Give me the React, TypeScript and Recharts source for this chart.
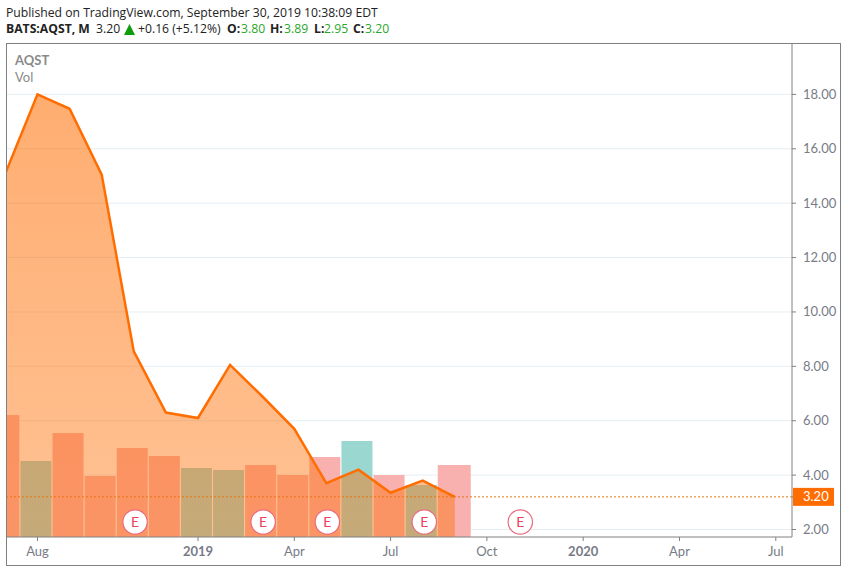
import { Area, Bar, CartesianGrid, ComposedChart, ReferenceDot, ReferenceLine, XAxis, YAxis } from 'recharts'

const monthIndex = [-1, 0, 1, 2, 3, 4, 5, 6, 7, 8, 9, 10, 11, 12, 13]
const closes = [15.1, 18.0, 17.47, 15.05, 8.55, 6.3, 6.1, 8.05, 6.9, 5.7, 3.7, 4.2, 3.35, 3.8, 3.2]
const volumes = [6.1, 3.8, 5.2, 3.05, 4.45, 4.05, 3.45, 3.35, 3.6, 3.1, 4.0, 4.8, 3.1, 2.6, 3.6]
const volumeUp = [false, true, false, false, false, false, true, true, false, false, false, true, false, true, false]

const priceTicks = [2, 4, 6, 8, 10, 12, 14, 16, 18]
const lastPrice = 3.2
const timeTicks = [0, 5, 8, 11, 14, 17, 20, 23]
const timeLabels = ['Aug', '2019', 'Apr', 'Jul', 'Oct', '2020', 'Apr', 'Jul']
const yearLabels = ['2019', '2020']
const earnings = [3.04, 7.03, 9.03, 12.05, 15.04]

const data = monthIndex.map((m, i) => ({
  m,
  close: closes[i],
  volume: volumes[i],
  up: volumeUp[i],
}))

const AXIS_FONT = 'Lato, "Open Sans", sans-serif'
const HEADER_FONT = '"Open Sans", "Noto Sans", sans-serif'
const ORANGE = '#ff6d00'
const TEXT_GRAY = '#787b86'
const GREEN = '#2aa62a'

function VolumeBar(props: any) {
  const { x, y, width, height, payload, index } = props
  const w = index === monthIndex.length - 1 ? width + 2 : width
  return <rect x={x - 2} y={y} width={w} height={height} fill={payload.up ? '#9bd7d1' : '#f8b1af'} />
}

function PriceTick({ x, y, payload }: any) {
  if (payload.value === lastPrice) {
    return (
      <g>
        <rect x={x - 5} y={y - 9} width={41} height={18} fill={ORANGE} />
        <text x={x + 5} y={y + 4.5} fill="#fff" fontSize={13} fontFamily={AXIS_FONT}>3.20</text>
      </g>
    )
  }
  return (
    <text x={x + 5} y={y + 4.5} fill={TEXT_GRAY} fontSize={13} fontFamily={AXIS_FONT}>
      {payload.value.toFixed(2)}
    </text>
  )
}

function TimeTick({ x, y, payload }: any) {
  const label = timeLabels[timeTicks.indexOf(payload.value)]
  return (
    <text
      x={x}
      y={y + 13}
      textAnchor="middle"
      fill={TEXT_GRAY}
      fontSize={13}
      fontWeight={yearLabels.includes(label) ? 'bold' : 'normal'}
      fontFamily={AXIS_FONT}
    >
      {label}
    </text>
  )
}

function EarningsDot({ cx, cy }: any) {
  return (
    <g>
      <circle cx={cx} cy={cy} r={12.2} fill="#fff" stroke="#ea6a7e" strokeWidth={1.2} />
      <text x={cx} y={cy + 5} textAnchor="middle" fill="#f0405f" fontSize={14} fontFamily={AXIS_FONT}>E</text>
    </g>
  )
}

function Header() {
  const row = { position: 'absolute', whiteSpace: 'nowrap', fontFamily: HEADER_FONT, fontSize: 12.2, lineHeight: '16px', color: '#222' } as const
  const second: [string, number, string, boolean][] = [
    ['BATS:AQST, M', 6, '#222', true],
    ['3.20', 96, '#222', false],
    ['+0.16 (+5.12%)', 138, '#222', false],
    ['O:', 227, '#222', true],
    ['3.80', 241, GREEN, false],
    ['H:', 270, '#222', true],
    ['3.89', 284, GREEN, false],
    ['L:', 314, '#222', true],
    ['2.95', 324, GREEN, false],
    ['C:', 353, '#222', true],
    ['3.20', 365, GREEN, false],
  ]
  return (
    <>
      <div style={{ ...row, left: 6, top: 5 }}>Published on TradingView.com, September 30, 2019 10:38:09 EDT</div>
      {second.map(([t, left, color, bold]) => (
        <div key={t + left} style={{ ...row, left, top: 21, color, fontWeight: bold ? 'bold' : 'normal' }}>{t}</div>
      ))}
      <svg style={{ position: 'absolute', left: 124, top: 24 }} width={11} height={11}>
        <polygon points="5.5,0 11,11 0,11" fill="#0c9c0c" />
      </svg>
    </>
  )
}

export default function App() {
  return (
    <div style={{ position: 'absolute', left: 0, top: 0, width: 846, height: 572, background: '#fff', overflow: 'hidden' }}>
      <Header />
      <ComposedChart
        width={846}
        height={572}
        data={data}
        margin={{ top: 43, right: 6, bottom: 7, left: 6 }}
        style={{ position: 'absolute', left: 0, top: 0 }}
      >
        <defs>
          <linearGradient id="areaFill" x1="0" y1="0" x2="0" y2="1">
            <stop offset="0%" stopColor={ORANGE} stopOpacity={0.56} />
            <stop offset="100%" stopColor={ORANGE} stopOpacity={0.42} />
          </linearGradient>
        </defs>
        <CartesianGrid xAxisId="t" yAxisId="price" vertical={false} stroke="#e4edf2" horizontalValues={priceTicks} />
        <XAxis
          xAxisId="t"
          dataKey="m"
          type="number"
          domain={[-0.981, 23.505]}
          allowDataOverflow
          ticks={timeTicks}
          interval={0}
          height={28}
          stroke="#808080"
          tickSize={4}
          tick={<TimeTick />}
        />
        <YAxis
          yAxisId="price"
          orientation="right"
          type="number"
          domain={[1.724, 19.89]}
          allowDataOverflow
          ticks={[...priceTicks, lastPrice]}
          interval={0}
          width={48}
          stroke="#808080"
          tickSize={4}
          tick={<PriceTick />}
        />
        <YAxis yAxisId="volume" hide type="number" domain={[0, 24.7]} />
        <Bar
          xAxisId="t"
          yAxisId="volume"
          dataKey="volume"
          barSize={31}
          shape={<VolumeBar />}
          isAnimationActive={false}
          zIndex={50}
        />
        <Area
          xAxisId="t"
          yAxisId="price"
          dataKey="close"
          type="linear"
          stroke={ORANGE}
          strokeWidth={2.5}
          fill="url(#areaFill)"
          fillOpacity={1}
          dot={false}
          activeDot={false}
          isAnimationActive={false}
        />
        <ReferenceLine xAxisId="t" yAxisId="price" y={lastPrice} stroke="#e8750f" strokeWidth={1} strokeDasharray="2 2" />
        {earnings.map((e) => (
          <ReferenceDot key={e} xAxisId="t" yAxisId="price" x={e} y={2.276} shape={<EarningsDot />} />
        ))}
      </ComposedChart>
      <div style={{ position: 'absolute', left: 6, top: 43, width: 833, height: 521, border: '1px solid #808080', pointerEvents: 'none' }} />
      <div style={{ position: 'absolute', left: 15, top: 52, fontFamily: AXIS_FONT, fontSize: 13, fontWeight: 'bold', color: '#8a8a8a' }}>AQST</div>
      <div style={{ position: 'absolute', left: 15, top: 69, fontFamily: AXIS_FONT, fontSize: 13, color: '#8a8a8a' }}>Vol</div>
    </div>
  )
}
